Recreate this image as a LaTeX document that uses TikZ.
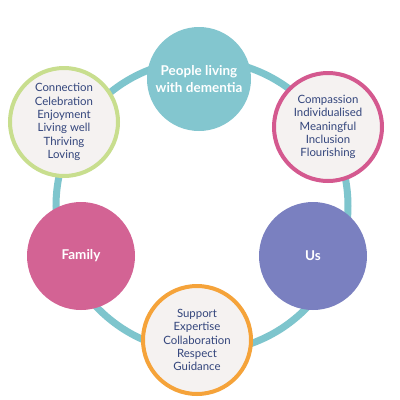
\documentclass[tikz,border=0pt]{standalone}
\usepackage{fontspec}
\setmainfont{Lato}
\definecolor{ringc}{HTML}{7EC5CD}
\definecolor{topc}{HTML}{83C6CF}
\definecolor{famc}{HTML}{D36394}
\definecolor{usc}{HTML}{7A80C0}
\definecolor{supc}{HTML}{F5A33A}
\definecolor{conc}{HTML}{C8DE8E}
\definecolor{comc}{HTML}{D4598F}
\definecolor{inner}{HTML}{F5F2F1}
\definecolor{txt}{HTML}{33457C}
\tikzset{
  filledc/.style={circle,minimum size=#1,inner sep=0pt,text=white,font=\fontsize{13.5}{17}\selectfont\bfseries,align=center},
  outlc/.style={circle,minimum size=#1,inner sep=0pt,fill=inner,line width=4pt,text=txt,font=\fontsize{11.4}{13.4}\selectfont,align=center},
  ringline/.style={draw=ringc,line width=7pt}
}
\begin{document}
\begin{tikzpicture}[x=1pt,y=-1pt]
\useasboundingbox[fill=white] (0,0) rectangle (400,400);
\coordinate (rc) at (202,206);
\draw[ringline] (rc) circle[radius=146];
\node[filledc=104pt,fill=topc] (people) at (199,79) {People living\\with dementia};
\node[outlc=108pt,draw=conc] (conn) at (64,122) {Connection\\Celebration\\Enjoyment\\Living well\\Thriving\\Loving};
\node[outlc=108pt,draw=comc] (comp) at (328,127) {Compassion\\Individualised\\Meaningful\\Inclusion\\Flourishing};
\node[filledc=108pt,fill=famc] (family) at (81,256) {Family};
\node[filledc=108pt,fill=usc] (us) at (313,256) {Us};
\node[outlc=108pt,draw=supc] (supp) at (197,340) {Support\\Expertise\\Collaboration\\Respect\\Guidance};
\end{tikzpicture}
\end{document}
